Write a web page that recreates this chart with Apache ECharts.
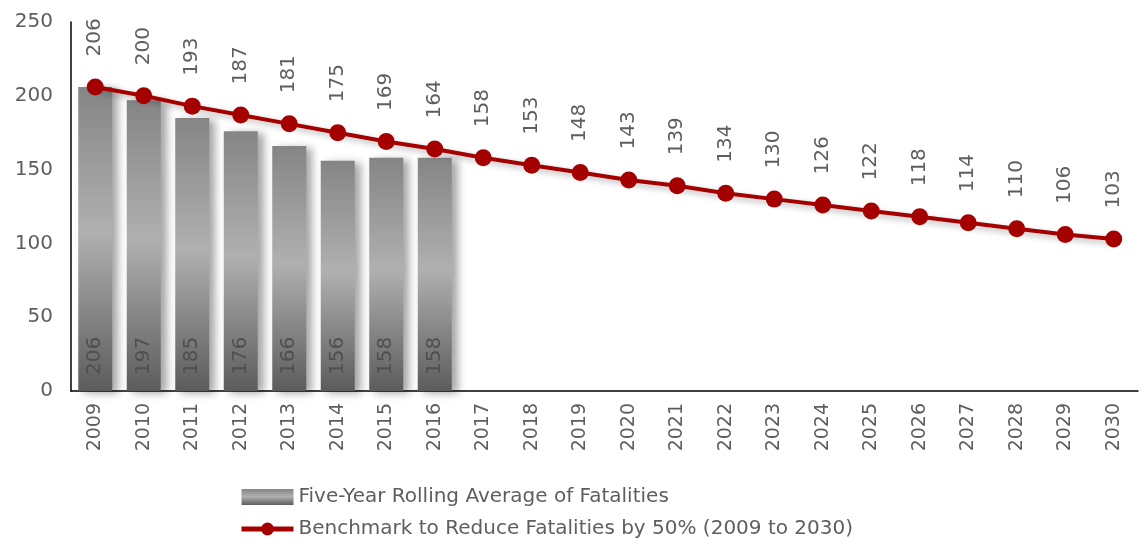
<!DOCTYPE html>
<html><head><meta charset="utf-8">
<script src="https://cdn.jsdelivr.net/npm/echarts@6/dist/echarts.min.js"></script>
<style>html,body{margin:0;padding:0;background:#fff}#c{width:1143px;height:546px}</style>
</head><body><div id="c"></div>
<script>
const years = ['2009','2010','2011','2012','2013','2014','2015','2016','2017','2018','2019','2020','2021','2022','2023','2024','2025','2026','2027','2028','2029','2030'];
const rollingAvg = [206,197,185,176,166,156,158,158,null,null,null,null,null,null,null,null,null,null,null,null,null,null];
const benchmark = [206,200,193,187,181,175,169,164,158,153,148,143,139,134,130,126,122,118,114,110,106,103];
const yTicks = {min:0, max:250, interval:50};
const barName = 'Five-Year Rolling Average of Fatalities';
const lineName = 'Benchmark to Reduce Fatalities by 50% (2009 to 2030)';

const font = 'DejaVu Sans';
const txt = '#5e5e5e';
const chart = echarts.init(document.getElementById('c'));
const barGrad = new echarts.graphic.LinearGradient(0,0,0,1,[
  {offset:0,color:'#858585'},{offset:0.48,color:'#b0b0b0'},{offset:1,color:'#5c5c5c'}]);
chart.setOption({
  animation:false,
  grid:{left:71,right:5,top:22,bottom:155,containLabel:false},
  legend:{
    orient:'vertical', left:234, top:482, itemGap:12, itemWidth:52, itemHeight:16,
    textStyle:{fontFamily:font,fontSize:20,color:txt,padding:[0,0,0,0]},
    data:[{name:barName,icon:'rect',itemStyle:{shadowBlur:0,shadowOffsetX:0,shadowOffsetY:0}},
          {name:lineName,lineStyle:{width:5,color:'#a50000'},itemStyle:{color:'#a50000'}}]
  },
  xAxis:{type:'category',data:years,
    axisLine:{lineStyle:{color:'#000',width:1.5}},axisTick:{show:false},
    axisLabel:{rotate:90,fontFamily:font,fontSize:19,color:txt,margin:12}},
  yAxis:{type:'value',min:yTicks.min,max:yTicks.max,interval:yTicks.interval,
    axisLine:{show:true,lineStyle:{color:'#000',width:1.5}},axisTick:{show:false},splitLine:{show:false},
    axisLabel:{fontFamily:font,fontSize:20,color:txt,margin:18}},
  series:[
    {name:barName,type:'bar',data:rollingAvg,barWidth:34,
     itemStyle:{color:barGrad,shadowColor:'rgba(0,0,0,0.35)',shadowBlur:8,shadowOffsetX:6,shadowOffsetY:2},
     label:{show:true,position:'insideBottom',rotate:90,align:'left',verticalAlign:'middle',distance:16,
       fontFamily:font,fontSize:20,color:'#4f4f4f'}},
    {name:lineName,type:'line',data:benchmark,symbol:'circle',symbolSize:17,
     lineStyle:{color:'#a50000',width:4,shadowColor:'rgba(0,0,0,0.3)',shadowBlur:6,shadowOffsetX:3,shadowOffsetY:3},
     itemStyle:{color:'#a50000'},
     label:{show:true,position:'top',rotate:90,align:'left',verticalAlign:'middle',distance:20,offset:[2,0],
       fontFamily:font,fontSize:20,color:txt}}
  ]
});
</script></body></html>
